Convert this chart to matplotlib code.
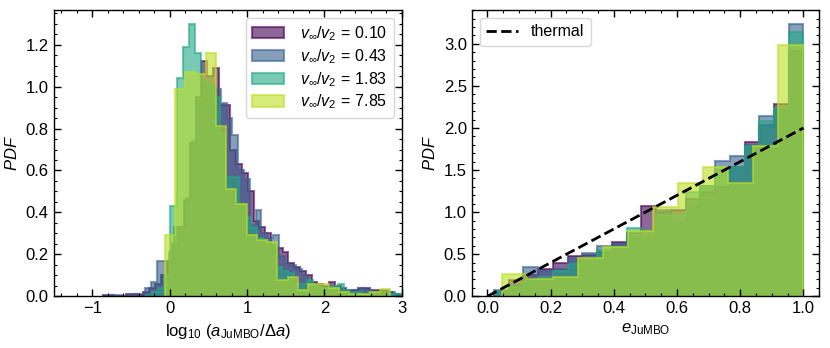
import matplotlib
matplotlib.use("Agg")
import matplotlib.pyplot as plt
import numpy as np
from matplotlib.ticker import MultipleLocator

plt.rcParams["font.family"] = ["Liberation Sans", "DejaVu Sans"]
plt.rcParams["mathtext.fontset"] = "custom"
plt.rcParams["mathtext.rm"] = "Liberation Sans"
plt.rcParams["mathtext.it"] = "Liberation Sans:italic"
plt.rcParams["mathtext.bf"] = "Liberation Sans:bold"

ratios = ["0.10", "0.43", "1.83", "7.85"]

# left panel: log10(a_JuMBO / delta a), one set of bins per run
a_start = [-0.865, -0.84, -0.31, -0.065]
a_width = [0.075, 0.075, 0.08, 0.1325]
a_pdf = [
    [0.005, 0.005, 0, 0, 0.01, 0.01, 0.005, 0.02, 0.04, 0.06,
     0.10, 0.17, 0.25, 0.33, 0.46, 0.73, 0.95, 1.12, 1.05, 1.09,
     0.91, 0.91, 0.70, 0.63, 0.59, 0.50, 0.36, 0.33, 0.30, 0.24,
     0.23, 0.21, 0.16, 0.14, 0.12, 0.10, 0.07, 0.06, 0.05, 0.07,
     0.05, 0.04, 0.03, 0.03, 0.04, 0.04, 0.03, 0.03, 0.03, 0.02, 0.01],
    [0.0, 0.005, 0.005, 0, 0.005, 0.01, 0.01, 0.04, 0.07, 0.17,
     0.17, 0.21, 0.33, 0.33, 0.47, 0.74, 0.93, 1.02, 1.01, 0.99,
     0.92, 0.85, 0.77, 0.60, 0.56, 0.34, 0.41, 0.30, 0.28, 0.29,
     0.19, 0.16, 0.15, 0.13, 0.10, 0.07, 0.05, 0.05, 0.04, 0.03,
     0.03, 0.02, 0.02, 0.03, 0.04, 0.03, 0.02, 0.02, 0.03, 0.02, 0.01],
    [0.005, 0.02, 0.04, 0.10, 0.43, 1.04, 1.19, 1.30, 1.16, 1.02,
     1.01, 0.95, 0.78, 0.57, 0.57, 0.44, 0.38, 0.33, 0.28, 0.27,
     0.25, 0.14, 0.12, 0.11, 0.06, 0.06, 0.08, 0.05, 0.04, 0.04,
     0.05, 0.06, 0.03, 0.02, 0.02, 0.01, 0.02, 0.02, 0.01, 0.01, 0.01],
    [0.29, 0.99, 1.07, 1.06, 1.16, 0.81, 0.51, 0.44, 0.29, 0.27,
     0.26, 0.08, 0.09, 0.03, 0.06, 0.06, 0.04, 0.02, 0.01, 0.01,
     0.02, 0.033],
]

# right panel: eccentricity
e_edges = np.linspace(0.02, 1.0, 22)
e_edges_last = np.linspace(0.047, 1.0, 13)
e_pdf = [
    [0.05, 0.19, 0.25, 0.33, 0.40, 0.48, 0.49, 0.53, 0.64, 0.75, 1.07,
     1.00, 1.03, 1.16, 1.24, 1.30, 1.54, 1.83, 2.04, 2.28, 2.91],
    [0.07, 0.14, 0.35, 0.30, 0.33, 0.45, 0.52, 0.60, 0.62, 0.69, 0.67,
     1.02, 0.87, 1.06, 1.31, 1.61, 1.67, 1.80, 2.14, 2.21, 3.24],
    [0.05, 0.11, 0.18, 0.23, 0.30, 0.38, 0.44, 0.55, 0.58, 0.81, 0.79,
     0.97, 0.96, 1.24, 1.31, 1.50, 1.54, 1.78, 2.08, 2.24, 3.14],
    [0.26, 0.20, 0.23, 0.45, 0.59, 0.77, 1.06, 1.35, 1.53, 1.35, 1.79, 2.98],
]

colors = plt.cm.viridis(np.linspace(0, 0.9, 4))


def style_axes(ax):
    ax.tick_params(which="both", direction="in", top=True, right=True, labelsize=12)
    ax.tick_params(which="major", length=5, width=1)
    ax.tick_params(which="minor", length=2.5, width=0.8)
    for spine in ax.spines.values():
        spine.set_linewidth(1.0)


fig = plt.figure(figsize=(8.3, 3.48), dpi=100)
ax1 = fig.add_axes([0.0647, 0.1486, 0.4193, 0.8224])
ax2 = fig.add_axes([0.5683, 0.1486, 0.4188, 0.8224])

for i, ratio in enumerate(ratios):
    heights = np.array(a_pdf[i])
    edges = a_start[i] + a_width[i] * np.arange(len(heights) + 1)
    ax1.stairs(heights, edges, fill=True, facecolor=colors[i], edgecolor=colors[i],
               alpha=0.6, lw=1.5, label=rf"$v_\infty/v_2\,=\,{ratio}$")

ax1.set_xlim(-1.5, 3)
ax1.set_ylim(0, 1.365)
ax1.xaxis.set_major_locator(MultipleLocator(1))
ax1.xaxis.set_minor_locator(MultipleLocator(0.2))
ax1.yaxis.set_major_locator(MultipleLocator(0.2))
ax1.yaxis.set_minor_locator(MultipleLocator(0.05))
ax1.set_xlabel(r"$\log_{10}\,(a_{\rm JuMBO}/\Delta a)$", fontsize=12)
ax1.set_ylabel(r"$PDF$", fontsize=12)
ax1.legend(loc="upper right", fontsize=11.5, handlelength=2.0, labelspacing=0.25,
           borderpad=0.4, handletextpad=1.0)
style_axes(ax1)

for i in range(4):
    edges = e_edges_last if i == 3 else e_edges
    ax2.stairs(np.array(e_pdf[i]), edges, fill=True, facecolor=colors[i],
               edgecolor=colors[i], alpha=0.6, lw=1.5)

e_line = np.linspace(0, 1, 100)
ax2.plot(e_line, 2 * e_line, "k--", lw=2, label="thermal")
ax2.set_xlim(-0.05, 1.05)
ax2.set_ylim(0, 3.40)
ax2.xaxis.set_major_locator(MultipleLocator(0.2))
ax2.xaxis.set_minor_locator(MultipleLocator(0.05))
ax2.yaxis.set_major_locator(MultipleLocator(0.5))
ax2.yaxis.set_minor_locator(MultipleLocator(0.1))
ax2.set_xlabel(r"$e_{\rm JuMBO}$", fontsize=12)
ax2.set_ylabel(r"$PDF$", fontsize=12)
ax2.legend(loc="upper left", fontsize=11.5, handlelength=2.0, borderpad=0.4)
style_axes(ax2)

fig.savefig("out.png", dpi=100)
